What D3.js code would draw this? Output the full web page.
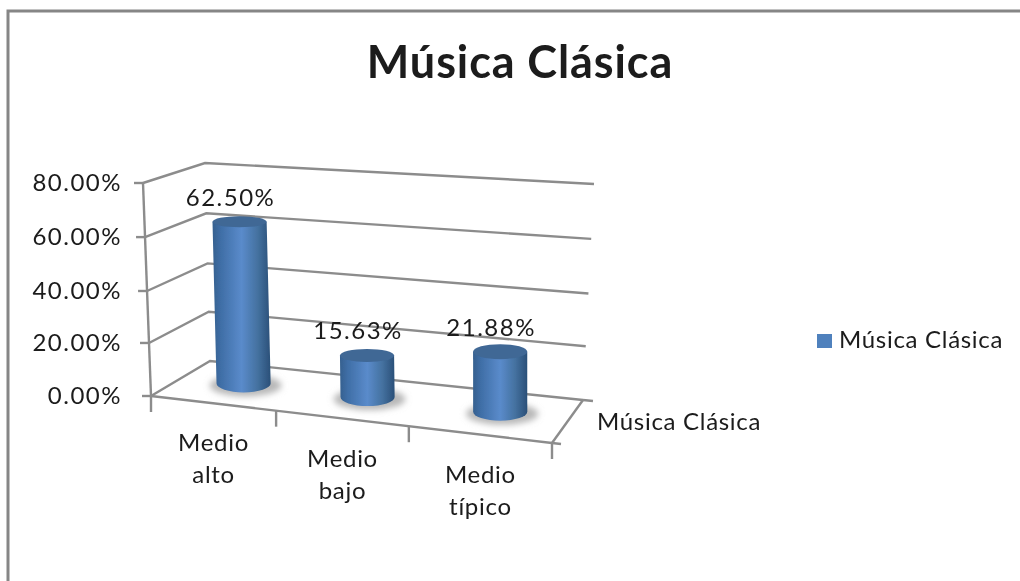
<!DOCTYPE html>
<html><head><meta charset="utf-8">
<script src="https://cdn.jsdelivr.net/npm/d3@7"></script>
<style>html,body{margin:0;padding:0;background:#fff}svg{display:block}text{font-family:Lato,"Open Sans",sans-serif;fill:#1a1a1a}</style>
</head><body><svg id="c" width="1020" height="581"></svg>
<script>
const categories=[["Medio","alto"],["Medio","bajo"],["Medio","típico"]];
const values=[62.5,15.63,21.88];
const valueLabels=["62.50%","15.63%","21.88%"];
const yTicks=[0,20,40,60,80];
const yTickLabels=["0.00%","20.00%","40.00%","60.00%","80.00%"];
const title="Música Clásica";
const seriesName="Música Clásica";

const W=1020,H=581;
const svg=d3.select("#c");
const defs=svg.append("defs");
defs.append("filter").attr("id","soft").append("feGaussianBlur").attr("stdDeviation",0.5);
const blur=defs.append("filter").attr("id","shadow").attr("x","-30%").attr("y","-60%").attr("width","160%").attr("height","220%");
blur.append("feGaussianBlur").attr("stdDeviation",3);
const grad=defs.append("linearGradient").attr("id","cyl");
[[0,"#35608f"],[.14,"#3f6ea6"],[.5,"#5a8bcb"],[.78,"#44719f"],[1,"#2a4f78"]].forEach(([o,c])=>grad.append("stop").attr("offset",o).attr("stop-color",c));

// corner anchors of the chart box: u across, z into depth, v up
const corners={fl0:[151,396],fr0:[552,443],bl0:[210,361],br0:[583,400],fl1:[143,183],fr1:[541,208],bl1:[205,163],br1:[594,184]};
const uScale=d3.scaleLinear().domain([0,1,2,3]).range([0,.312,.643,1]);
const vScale=d3.scaleLinear().domain([0,20,40,60,80]).range([0,.249,.493,.746,1]);
const lerp=(a,b,t)=>a+(b-a)*t;
function P(cat,depth,val){
  const u=uScale(cat),v=vScale(val);
  return [0,1].map(i=>{
    const f=lerp(lerp(corners.fl0[i],corners.fr0[i],u),lerp(corners.fl1[i],corners.fr1[i],u),v);
    const b=lerp(lerp(corners.bl0[i],corners.br0[i],u),lerp(corners.bl1[i],corners.br1[i],u),v);
    return lerp(f,b,depth);
  });
}
const line=d3.line();

// frame
svg.append("path").attr("d",line([[8,H],[8,11],[W,11]])).attr("fill","none").attr("stroke","#868686").attr("stroke-width",3);

const g=svg.append("g").attr("filter","url(#soft)");
const labels=svg.append("g").attr("filter","url(#soft)");
const stroke="#8c8c8c";
const seg=(a,b,w=2.4)=>g.append("path").attr("d",line([a,b])).attr("fill","none").attr("stroke",stroke).attr("stroke-width",w);
const numberText=(x,y,t,anchor)=>labels.append("text").attr("x",x).attr("y",y).attr("text-anchor",anchor).attr("dominant-baseline","middle").attr("font-size",24).attr("letter-spacing",1.5).text(t);
const wordText=(x,y,t,anchor)=>labels.append("text").attr("x",x).attr("y",y).attr("text-anchor",anchor).attr("dominant-baseline","middle").attr("font-size",24).attr("letter-spacing",.7).text(t);

// walls and gridlines
yTicks.forEach((t,idx)=>{
  g.append("path").attr("d",line([P(0,0,t),P(0,1,t),P(3,1,t)])).attr("fill","none").attr("stroke",stroke).attr("stroke-width",2.4);
  const p=P(0,0,t);
  seg([p[0]-9,p[1]],p);
  numberText(122,p[1]+2,yTickLabels[idx],"end");
});
seg(P(0,0,0),P(0,0,80));
// floor
seg(P(0,0,0),P(3,0,0));
seg(P(3,0,0),P(3,1,0));
const br=P(3,1,0),fr=P(3,0,0);
seg(br,[br[0]+10,br[1]+1]);
seg(fr,[fr[0]+9,fr[1]+1]);
[0,1,2,3].forEach(i=>{const p=P(i,0,0);seg(p,[p[0],p[1]+16]);});

// cylinders
const depth=.55;
const barHalf=.225;
const rx=(P(.5+barHalf,depth,0)[0]-P(.5-barHalf,depth,0)[0])/2;
const bars=svg.append("g").attr("filter","url(#soft)");
categories.forEach((c,i)=>{
  const cx=i+.5,v=values[i];
  const base=P(cx,depth,0),top=P(cx,depth,v);
  const ryB=9,ryT=5.5+i*1;
  const gb=bars.append("g");
  gb.append("ellipse").attr("cx",base[0]+2).attr("cy",base[1]+2).attr("rx",rx+9).attr("ry",ryB+2).attr("fill","#b8b8b8").attr("filter","url(#shadow)");
  gb.append("path").attr("d",`M${top[0]-rx},${top[1]}L${base[0]-rx},${base[1]}A${rx},${ryB} 0 0 0 ${base[0]+rx},${base[1]}L${top[0]+rx},${top[1]}Z`).attr("fill","url(#cyl)");
  gb.append("ellipse").attr("cx",top[0]).attr("cy",top[1]).attr("rx",rx).attr("ry",ryT).attr("fill","#3f6795");
  numberText(top[0]-9,top[1]-22,valueLabels[i],"middle");
  const f=P(cx,0,0);
  c.forEach((t,k)=>wordText(f[0],f[1]+42+k*32,t,"middle"));
});
labels.raise();

// series axis label, legend, title
wordText(597,424,seriesName,"start");
svg.append("rect").attr("x",817).attr("y",334).attr("width",15).attr("height",14).attr("fill","#4f81bd");
wordText(839,342,seriesName,"start");
labels.append("text").attr("x",520).attr("y",66).attr("text-anchor","middle").attr("dominant-baseline","middle").attr("font-size",45).attr("font-weight",700).attr("letter-spacing",.9).text(title);
</script></body></html>
